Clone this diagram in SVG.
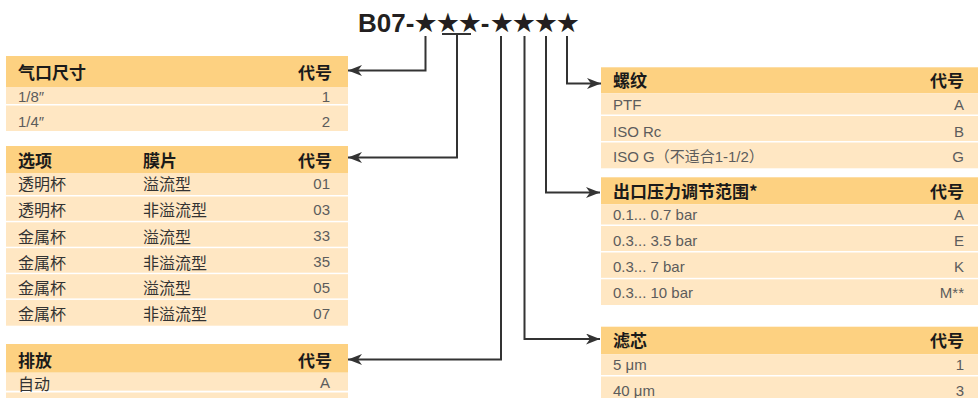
<svg xmlns="http://www.w3.org/2000/svg" width="978" height="398" viewBox="0 0 978 398">
<defs>
<style>
.hd{fill:#FDD181}
.rw{fill:#FFE7C3}
.ht{font-family:"Noto Sans CJK SC",sans-serif;font-weight:bold;font-size:17px;fill:#1a1a1a;dominant-baseline:central}
.tx{font-family:"Liberation Sans Narrow","Liberation Sans","Noto Sans CJK SC",sans-serif;font-size:15px;fill:#5c5c5c;dominant-baseline:central}
.cj{font-family:"Noto Sans CJK SC",sans-serif;font-size:16px;fill:#333333;dominant-baseline:central}
.r{text-anchor:end}
.ln{fill:none;stroke:#333333;stroke-width:2}
.title{font-family:"Liberation Sans","DejaVu Sans",sans-serif;font-weight:bold;font-size:26px;fill:#231f20}
.st{font-family:"DejaVu Sans",sans-serif;font-size:27px}
</style>
<marker id="ah" markerUnits="userSpaceOnUse" markerWidth="15" markerHeight="12" refX="14" refY="5.5" orient="auto">
<path d="M0,0 L14,5.5 L0,11 L4,5.5 z" fill="#333333"/>
</marker>
</defs>
<rect width="978" height="398" fill="#ffffff"/>

<g id="title">
<text class="title" x="358" y="32">B07-<tspan class="st" x="413.5 435.8 457.8">★★★</tspan><tspan x="480.8">-</tspan><tspan class="st" x="489.8 511.7 533.7 555.7">★★★★</tspan></text>
</g>

<g id="t-port">
<rect class="hd" x="6" y="56" width="342" height="31"/>
<rect class="rw" x="6" y="87" width="342" height="17"/>
<rect class="rw" x="6" y="105.5" width="342" height="25.5"/>
<text class="ht" x="18" y="71.5">气口尺寸</text>
<text class="ht r" x="332" y="71.5">代号</text>
<text class="tx" x="18" y="96">1/8″</text>
<text class="tx r" x="330" y="96">1</text>
<text class="tx" x="18" y="121">1/4″</text>
<text class="tx r" x="330" y="121">2</text>
</g>

<g id="t-option">
<rect class="hd" x="6" y="146" width="342" height="27"/>
<rect class="rw" x="6" y="173" width="342" height="22"/>
<rect class="rw" x="6" y="196.5" width="342" height="24.3"/>
<rect class="rw" x="6" y="222.3" width="342" height="24.4"/>
<rect class="rw" x="6" y="248.2" width="342" height="24.5"/>
<rect class="rw" x="6" y="274.2" width="342" height="24.2"/>
<rect class="rw" x="6" y="299.9" width="342" height="25.8"/>
<text class="ht" x="18" y="159">选项</text>
<text class="ht" x="143" y="159">膜片</text>
<text class="ht r" x="332" y="159">代号</text>
<text class="cj" x="18" y="183.3">透明杯</text><text class="cj" x="143" y="183.3">溢流型</text><text class="tx r" x="330" y="183.3">01</text>
<text class="cj" x="18" y="209.3">透明杯</text><text class="cj" x="143" y="209.3">非溢流型</text><text class="tx r" x="330" y="209.3">03</text>
<text class="cj" x="18" y="235.5">金属杯</text><text class="cj" x="143" y="235.5">溢流型</text><text class="tx r" x="330" y="235.5">33</text>
<text class="cj" x="18" y="261.5">金属杯</text><text class="cj" x="143" y="261.5">非溢流型</text><text class="tx r" x="330" y="261.5">35</text>
<text class="cj" x="18" y="287">金属杯</text><text class="cj" x="143" y="287">溢流型</text><text class="tx r" x="330" y="287">05</text>
<text class="cj" x="18" y="313">金属杯</text><text class="cj" x="143" y="313">非溢流型</text><text class="tx r" x="330" y="313">07</text>
</g>

<g id="t-drain">
<rect class="hd" x="6" y="344" width="342" height="28.7"/>
<rect class="rw" x="6" y="372.7" width="342" height="18"/>
<rect class="rw" x="6" y="392.5" width="342" height="6"/>
<text class="ht" x="18" y="359">排放</text>
<text class="ht r" x="332" y="359">代号</text>
<text class="cj" x="18" y="382.5">自动</text>
<text class="tx r" x="330" y="382.5">A</text>
</g>

<g id="t-thread">
<rect class="hd" x="601" y="67.3" width="377" height="26"/>
<rect class="rw" x="601" y="93.3" width="377" height="21.2"/>
<rect class="rw" x="601" y="116" width="377" height="25"/>
<rect class="rw" x="601" y="142.5" width="377" height="25.8"/>
<text class="ht" x="613" y="79.5">螺纹</text>
<text class="ht r" x="964" y="79.5">代号</text>
<text class="tx" x="613" y="104.3">PTF</text><text class="tx r" x="964" y="104.3">A</text>
<text class="tx" x="613" y="131">ISO Rc</text><text class="tx r" x="964" y="131">B</text>
<text class="tx" x="613" y="156.7">ISO G（不适合1-1/2）</text><text class="tx r" x="964" y="156.7">G</text>
</g>

<g id="t-pressure">
<rect class="hd" x="601" y="177.3" width="377" height="27"/>
<rect class="rw" x="601" y="204.3" width="377" height="20.2"/>
<rect class="rw" x="601" y="226" width="377" height="25"/>
<rect class="rw" x="601" y="252.5" width="377" height="25.3"/>
<rect class="rw" x="601" y="279.3" width="377" height="25.7"/>
<text class="ht" x="613" y="190">出口压力调节范围*</text>
<text class="ht r" x="964" y="190">代号</text>
<text class="tx" x="613" y="214.3">0.1... 0.7 bar</text><text class="tx r" x="964" y="214.3">A</text>
<text class="tx" x="613" y="240.7">0.3... 3.5 bar</text><text class="tx r" x="964" y="240.7">E</text>
<text class="tx" x="613" y="266.7">0.3... 7 bar</text><text class="tx r" x="964" y="266.7">K</text>
<text class="tx" x="613" y="292.7">0.3... 10 bar</text><text class="tx r" x="964" y="292.7">M**</text>
</g>

<g id="t-filter">
<rect class="hd" x="601" y="326.7" width="377" height="27.6"/>
<rect class="rw" x="601" y="354.3" width="377" height="20.7"/>
<rect class="rw" x="601" y="376.5" width="377" height="21.5"/>
<text class="ht" x="613" y="339.5">滤芯</text>
<text class="ht r" x="964" y="339.5">代号</text>
<text class="tx" x="613" y="364.3">5 μm</text><text class="tx r" x="964" y="364.3">1</text>
<text class="tx" x="613" y="390">40 μm</text><text class="tx r" x="964" y="390">3</text>
</g>

<g id="connectors">
<path class="ln" d="M425.5,36 V70.5 H348" marker-end="url(#ah)"/>
<path class="ln" d="M442,34 H471"/>
<path class="ln" d="M457,34 V157.5 H348" marker-end="url(#ah)"/>
<path class="ln" d="M501,36 V359.5 H348" marker-end="url(#ah)"/>
<path class="ln" d="M524.5,36 V339 H600" marker-end="url(#ah)"/>
<path class="ln" d="M546,36 V192.5 H600" marker-end="url(#ah)"/>
<path class="ln" d="M567,36 V83.5 H601" marker-end="url(#ah)"/>
</g>
</svg>
